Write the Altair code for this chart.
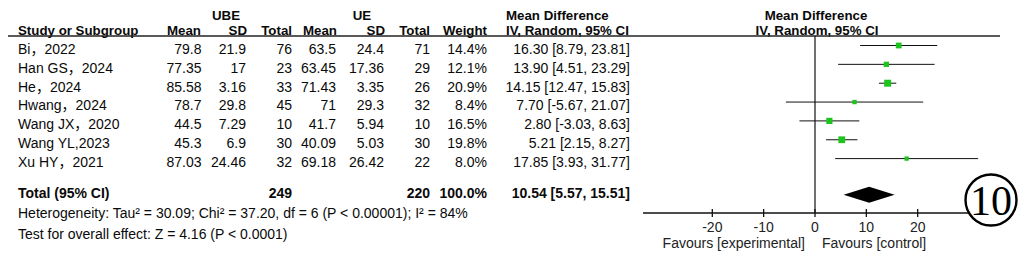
import altair as alt
import pandas as pd

# ---------------- data ----------------
studies = ["Bi，2022", "Han GS，2024", "He，2024", "Hwang，2024",
           "Wang JX，2020", "Wang YL,2023", "Xu HY，2021"]
ube_mean = [79.8, 77.35, 85.58, 78.7, 44.5, 45.3, 87.03]
ube_sd = [21.9, 17, 3.16, 29.8, 7.29, 6.9, 24.46]
ube_n = [76, 23, 33, 45, 10, 30, 32]
ue_mean = [63.5, 63.45, 71.43, 71, 41.7, 40.09, 69.18]
ue_sd = [24.4, 17.36, 3.35, 29.3, 5.94, 5.03, 26.42]
ue_n = [71, 29, 26, 32, 10, 30, 22]
weight = [14.4, 12.1, 20.9, 8.4, 16.5, 19.8, 8.0]
md = [16.30, 13.90, 14.15, 7.70, 2.80, 5.21, 17.85]
ci_lo = [8.79, 4.51, 12.47, -5.67, -3.03, 2.15, 3.93]
ci_hi = [23.81, 23.29, 15.83, 21.07, 8.63, 8.27, 31.77]

total_ube_n = 249
total_ue_n = 220
total_weight = 100.0
total_md = 10.54
total_lo = 5.57
total_hi = 15.51

heterogeneity = "Heterogeneity: Tau² = 30.09; Chi² = 37.20, df = 6 (P < 0.00001); I² = 84%"
overall = "Test for overall effect: Z = 4.16 (P < 0.0001)"
tick_values = [-20, -10, 0, 10, 20]
x_domain = [-33.5, 33.5]

# ---------------- style / layout ----------------
W, H = 1010, 243
FONT = "Liberation Sans, Arial, Noto Sans CJK SC, sans-serif"
FS = 14
FSB = 14
FSH = 13.3
TXT = "#0a0a0a"
GREEN = "#1ec41e"
OFF = 8  # page margin

def P(v):
    return v - OFF

n = len(studies)
rows = list(range(n))
total_row = n + 0.915
het_row = n + 2
test_row = n + 3

xs = alt.Scale(domain=x_domain, range=[P(643), P(987)], nice=False, zero=False)
ys = alt.Scale(domain=[0, 10], range=[P(45.5), P(45.5 + 10 * 18.85)], nice=False, zero=False)
Y = alt.Y("row:Q", scale=ys, axis=None)


def fmt(v):
    return f"{v:g}"


def text_col(values, xpix, align="right", bold=False, rws=None, dy=4.3, color=TXT):
    df = pd.DataFrame({"row": rws if rws is not None else rows, "t": values})
    return alt.Chart(df).mark_text(
        align=align, baseline="middle", dy=dy, font=FONT, fontSize=FSB if bold else FS,
        fontWeight="bold" if bold else "normal", color=color
    ).encode(x=alt.value(P(xpix)), y=Y, text="t:N")


def fixed_text(label, xpix, ypix, align="left", bold=False, size=None, font=FONT,
               baseline="alphabetic", color=TXT):
    df = pd.DataFrame({"t": [label]})
    return alt.Chart(df).mark_text(
        align=align, baseline=baseline, font=font,
        fontSize=size if size else (FSB if bold else FS),
        fontWeight="bold" if bold else "normal", color=color
    ).encode(x=alt.value(P(xpix)), y=alt.value(P(ypix)), text="t:N")


def header(label, xpix, ypix, align="left"):
    return fixed_text(label, xpix, ypix, align=align, bold=True, size=FSH)


layers = []

# headers
hdr_y1, hdr_y2 = 20.1, 35
layers += [
    header("UBE", 226, hdr_y1, align="center"),
    header("UE", 362, hdr_y1, align="center"),
    header("Mean Difference", 506, hdr_y1),
    header("Mean Difference", 816, hdr_y1, align="center"),
    header("Study or Subgroup", 18, hdr_y2),
    header("Mean", 201, hdr_y2, align="right"),
    header("SD", 247, hdr_y2, align="right"),
    header("Total", 292, hdr_y2, align="right"),
    header("Mean", 337, hdr_y2, align="right"),
    header("SD", 385, hdr_y2, align="right"),
    header("Total", 430, hdr_y2, align="right"),
    header("Weight", 487, hdr_y2, align="right"),
    header("IV, Random, 95% CI", 506, hdr_y2),
    header("IV, Random, 95% CI", 817, hdr_y2, align="center"),
]

# header underline
layers.append(
    alt.Chart(pd.DataFrame({"a": [0]})).mark_rule(color="#222222", strokeWidth=1.3).encode(
        x=alt.value(P(6)), x2=alt.value(P(1000)), y=alt.value(P(36)))
)

# study rows
layers += [
    text_col(studies, 18, align="left"),
    text_col([fmt(v) for v in ube_mean], 201.5),
    text_col([fmt(v) for v in ube_sd], 246),
    text_col([fmt(v) for v in ube_n], 292),
    text_col([fmt(v) for v in ue_mean], 336),
    text_col([fmt(v) for v in ue_sd], 384),
    text_col([fmt(v) for v in ue_n], 430),
    text_col([f"{w:.1f}%" for w in weight], 487),
    text_col([f"{m:.2f} [{l:.2f}, {h:.2f}]" for m, l, h in zip(md, ci_lo, ci_hi)], 630),
]

# total row
layers += [
    text_col(["Total (95% CI)"], 18, align="left", bold=True, rws=[total_row], dy=-0.5),
    text_col([str(total_ube_n)], 292, bold=True, rws=[total_row], dy=-0.5),
    text_col([str(total_ue_n)], 430, bold=True, rws=[total_row], dy=-0.5),
    text_col([f"{total_weight:.1f}%"], 487, bold=True, rws=[total_row], dy=-0.5),
    text_col([f"{total_md:.2f} [{total_lo:.2f}, {total_hi:.2f}]"], 630, bold=True,
             rws=[total_row], dy=-0.5),
    text_col([heterogeneity], 18, align="left", rws=[het_row], dy=-0.8),
    text_col([overall], 18, align="left", rws=[test_row], dy=0.5),
]

# forest plot
forest = pd.DataFrame({"row": rows, "md": md, "lo": ci_lo, "hi": ci_hi, "w": weight})
layers.append(
    alt.Chart(forest).mark_rule(color="#111111", strokeWidth=1).encode(
        x=alt.X("lo:Q", scale=xs, axis=None), x2="hi:Q", y=Y)
)
layers.append(
    alt.Chart(forest).mark_square(filled=True, color=GREEN, opacity=1).encode(
        x=alt.X("md:Q", scale=xs, axis=None), y=Y,
        size=alt.Size("w:Q", scale=alt.Scale(type="linear", domain=[0, 25], range=[0, 58]),
                      legend=None))
)

half = 0.424
diamond = pd.DataFrame({
    "x": [total_lo, total_md, total_hi],
    "row": [total_row, total_row - half, total_row],
    "row2": [total_row, total_row + half, total_row],
})
layers.append(
    alt.Chart(diamond).mark_area(color="#000000", orient="vertical", opacity=1).encode(
        x=alt.X("x:Q", scale=xs, axis=None), y=Y, y2="row2:Q")
)

# zero line
layers.append(
    alt.Chart(pd.DataFrame({"x": [0]})).mark_rule(color="#111111", strokeWidth=1.2).encode(
        x=alt.X("x:Q", scale=xs, axis=None), y=alt.value(P(36)), y2=alt.value(P(213)))
)

# axis line + ticks + labels
layers.append(
    alt.Chart(pd.DataFrame({"a": [x_domain[0]], "b": [x_domain[1]]})).mark_rule(
        color="#111111", strokeWidth=1.3).encode(
        x=alt.X("a:Q", scale=xs, axis=None), x2="b:Q", y=alt.value(P(213)))
)
ticks = pd.DataFrame({"t": tick_values, "lab": [str(t) for t in tick_values]})
layers.append(
    alt.Chart(ticks).mark_rule(color="#111111", strokeWidth=1.3).encode(
        x=alt.X("t:Q", scale=xs, axis=None), y=alt.value(P(209)), y2=alt.value(P(217)))
)
layers.append(
    alt.Chart(ticks).mark_text(font=FONT, fontSize=FS, color="#222222", baseline="middle",
                               align="center").encode(
        x=alt.X("t:Q", scale=xs, axis=None), y=alt.value(P(228)), text="lab:N")
)
layers += [
    fixed_text("Favours [experimental]", 805, 243.5, align="right", baseline="middle",
               color="#222222"),
    fixed_text("Favours [control]", 822, 243.5, align="left", baseline="middle",
               color="#222222"),
]

# circled number
layers.append(
    alt.Chart(pd.DataFrame({"a": [0]})).mark_point(
        shape="circle", size=2600, filled=False, fill="white", fillOpacity=1,
        stroke="#000000", strokeWidth=2.4, opacity=1).encode(
        x=alt.value(P(991)), y=alt.value(P(200)))
)
layers.append(
    fixed_text("10", 991, 202, align="center", baseline="middle", size=42,
               font="Liberation Serif, Times New Roman, serif", color="#000000")
)

chart = alt.layer(*layers).properties(
    width=W, height=H, padding=0, autosize=alt.AutoSizeParams(type="none")
).configure_view(stroke=None)

chart.save("out.html", embed_options={"renderer": "svg", "actions": False})
